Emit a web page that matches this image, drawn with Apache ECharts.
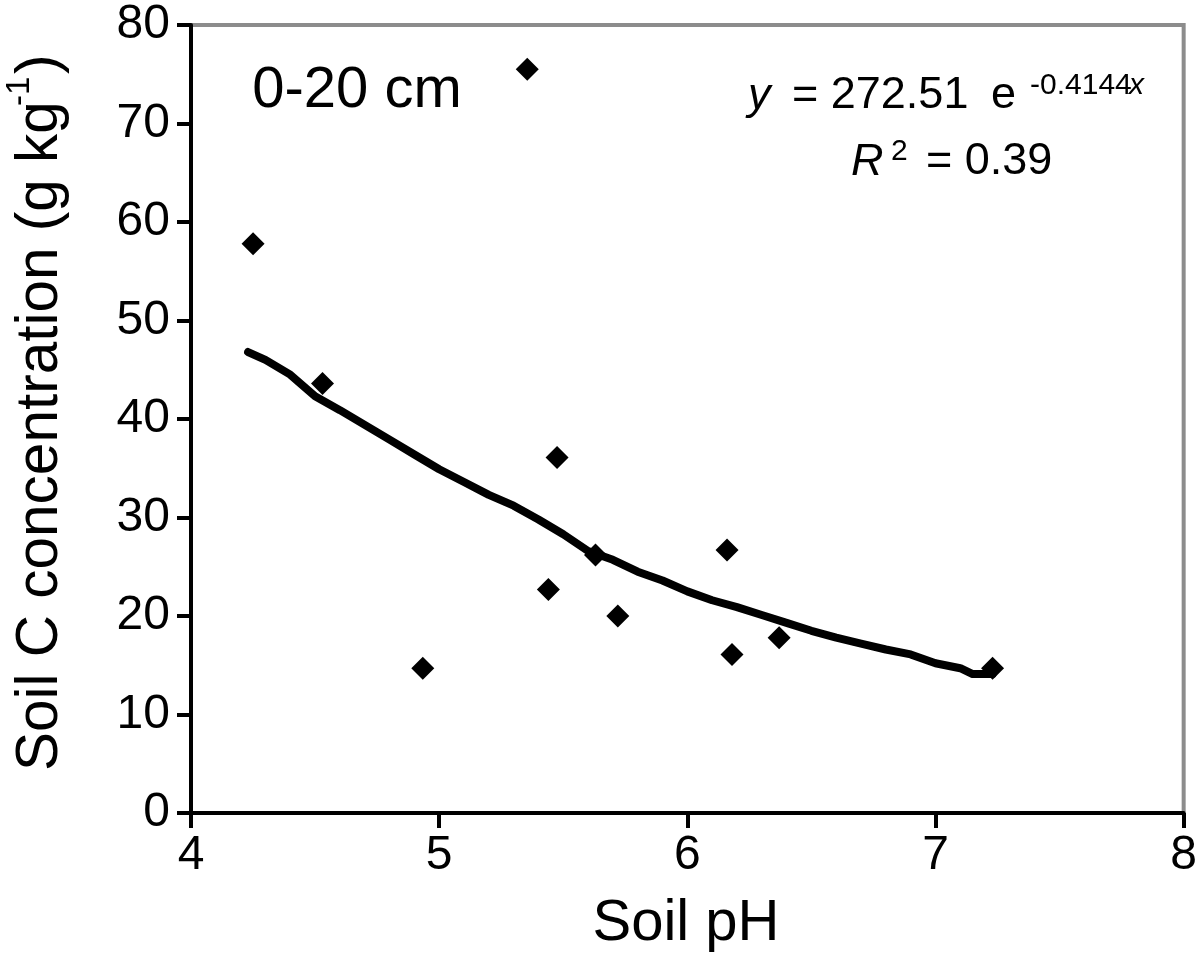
<!DOCTYPE html>
<html>
<head>
<meta charset="utf-8">
<script src="https://cdn.jsdelivr.net/npm/echarts@6/dist/echarts.min.js"></script>
<style>html,body{margin:0;padding:0;background:#fff}#c{width:1200px;height:957px}</style>
</head>
<body>
<div id="c"></div>
<script>
// Observed data points (soil pH, soil C g/kg)
const pointsPH = [4.25, 4.53, 5.355, 4.934, 5.475, 5.44, 5.63, 5.72, 6.16, 6.18, 6.37, 7.23];
const pointsC  = [57.8, 43.6, 75.5, 14.7, 36.1, 22.7, 26.2, 20.0, 26.7, 16.1, 17.8, 14.7];
// Trend line
const linePH = [4.23, 4.3, 4.4, 4.5, 4.6, 4.7, 4.8, 4.9, 5.0, 5.1, 5.2, 5.3, 5.4, 5.5, 5.6, 5.7, 5.8, 5.9, 6.0, 6.1, 6.2, 6.3, 6.4, 6.5, 6.6, 6.7, 6.8, 6.9, 7.0, 7.1, 7.15, 7.23];
const lineC  = [46.8, 46.0, 44.5, 42.3, 40.9, 39.4, 37.9, 36.4, 34.9, 33.6, 32.3, 31.2, 29.8, 28.3, 26.6, 25.7, 24.5, 23.6, 22.5, 21.6, 20.9, 20.1, 19.3, 18.5, 17.8, 17.2, 16.6, 16.1, 15.2, 14.7, 14.1, 14.1];
const xTicks = {min: 4, max: 8, interval: 1};
const yTicks = {min: 0, max: 80, interval: 10};

const FONT = '"Liberation Sans", Arial, Helvetica, sans-serif';
const chart = echarts.init(document.getElementById('c'), null, {renderer: 'canvas'});

function txt(x, y, text, size, opts) {
  opts = opts || {};
  return {
    type: 'text', x: x, y: y, rotation: opts.rotation || 0, z: 100,
    style: {
      text: text, fill: '#000', font: (opts.italic ? 'italic ' : '') + size + 'px ' + FONT,
      textAlign: opts.align || 'left', textVerticalAlign: 'middle'
    }
  };
}

const option = {
  backgroundColor: '#fff',
  animation: false,
  grid: {left: 191, right: 11, top: 25, bottom: 144, show: true, borderColor: '#8c8c8c', borderWidth: 4, backgroundColor: 'transparent'},
  xAxis: {
    type: 'value', min: xTicks.min, max: xTicks.max, interval: xTicks.interval,
    splitLine: {show: false},
    axisLine: {show: true, onZero: false, lineStyle: {color: '#000', width: 4}},
    axisTick: {show: true, inside: false, length: 15, lineStyle: {color: '#000', width: 4}},
    axisLabel: {color: '#000', fontSize: 48, fontFamily: FONT, margin: 19}
  },
  yAxis: {
    type: 'value', min: yTicks.min, max: yTicks.max, interval: yTicks.interval,
    splitLine: {show: false},
    axisLine: {show: true, onZero: false, lineStyle: {color: '#000', width: 4}},
    axisTick: {show: true, inside: false, length: 14, lineStyle: {color: '#000', width: 4}},
    axisLabel: {color: '#000', fontSize: 48, fontFamily: FONT, margin: 21}
  },
  series: [
    {
      type: 'scatter', symbol: 'diamond', symbolSize: 23,
      itemStyle: {color: '#000', opacity: 1},
      data: pointsPH.map((v, i) => [v, pointsC[i]]), z: 3
    },
    {
      type: 'line', showSymbol: false, symbol: 'none', smooth: false,
      lineStyle: {color: '#000', width: 8, cap: 'round', join: 'round', opacity: 1},
      data: linePH.map((v, i) => [v, lineC[i]]), z: 4
    }
  ],
  graphic: [
    txt(357, 91, '0-20 cm', 58, {align: 'center'}),
    txt(748, 96, 'y', 45, {italic: true}),
    txt(792, 96, '= 272.51', 45),
    txt(991, 96, 'e', 45),
    txt(1030, 86, '-0.4144', 30),
    txt(1129, 86, 'x', 30, {italic: true}),
    txt(851, 162, 'R', 45, {italic: true}),
    txt(891, 152, '2', 30),
    txt(926, 162, '= 0.39', 45),
    txt(686, 924, 'Soil pH', 58, {align: 'center'}),
    txt(41, 771, 'Soil C concentration (g kg', 58.5, {rotation: Math.PI / 2}),
    txt(20, 106, '-1', 33, {rotation: Math.PI / 2}),
    txt(41, 74, ')', 59, {rotation: Math.PI / 2})
  ]
};
chart.setOption(option);
</script>
</body>
</html>
